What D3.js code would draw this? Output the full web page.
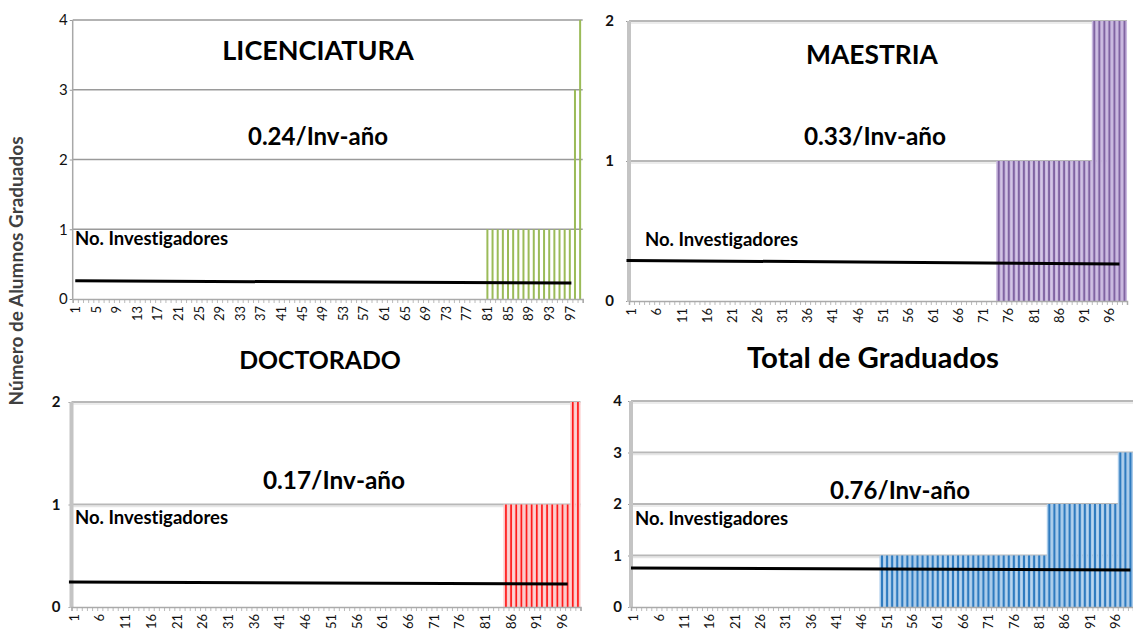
<!DOCTYPE html>
<html>
<head>
<meta charset="utf-8">
<script src="https://cdn.jsdelivr.net/npm/d3@7"></script>
<style>
  html, body { margin: 0; padding: 0; background: #fff; }
  svg { display: block; font-family: Lato, "Open Sans", "DejaVu Sans", sans-serif; }
  svg text { font-variant-ligatures: none; font-feature-settings: "liga" 0, "clig" 0; }
</style>
</head>
<body>
<svg id="chart" width="1133" height="635"></svg>
<script>
// ---------- DATA ----------
const categories = d3.range(1, 100); // 1..99

const licValues = [
  0,0,0,0,0,0,0,0,0,0, 0,0,0,0,0,0,0,0,0,0,
  0,0,0,0,0,0,0,0,0,0, 0,0,0,0,0,0,0,0,0,0,
  0,0,0,0,0,0,0,0,0,0, 0,0,0,0,0,0,0,0,0,0,
  0,0,0,0,0,0,0,0,0,0, 0,0,0,0,0,0,0,0,0,0,
  1,1,1,1,1,1,1,1,1,1, 1,1,1,1,1,1,1,3,4
];
const maeValues = [
  0,0,0,0,0,0,0,0,0,0, 0,0,0,0,0,0,0,0,0,0,
  0,0,0,0,0,0,0,0,0,0, 0,0,0,0,0,0,0,0,0,0,
  0,0,0,0,0,0,0,0,0,0, 0,0,0,0,0,0,0,0,0,0,
  0,0,0,0,0,0,0,0,0,0, 0,0,0,1,1,1,1,1,1,1,
  1,1,1,1,1,1,1,1,1,1, 1,1,2,2,2,2,2,2,2
];
const docValues = [
  0,0,0,0,0,0,0,0,0,0, 0,0,0,0,0,0,0,0,0,0,
  0,0,0,0,0,0,0,0,0,0, 0,0,0,0,0,0,0,0,0,0,
  0,0,0,0,0,0,0,0,0,0, 0,0,0,0,0,0,0,0,0,0,
  0,0,0,0,0,0,0,0,0,0, 0,0,0,0,0,0,0,0,0,0,
  0,0,0,0,1,1,1,1,1,1, 1,1,1,1,1,1,1,2,2
];
const totValues = [
  0,0,0,0,0,0,0,0,0,0, 0,0,0,0,0,0,0,0,0,0,
  0,0,0,0,0,0,0,0,0,0, 0,0,0,0,0,0,0,0,0,0,
  0,0,0,0,0,0,0,0,0,1, 1,1,1,1,1,1,1,1,1,1,
  1,1,1,1,1,1,1,1,1,1, 1,1,1,1,1,1,1,1,1,1,
  1,1,2,2,2,2,2,2,2,2, 2,2,2,2,2,2,3,3,3
];

// "No. Investigadores" reference lines: [category position, value]
const licLine = [[1, 0.26], [97.3, 0.23]];
const maeLine = [[0, 0.29], [98, 0.265]];
const docLine = [[0, 0.245], [97, 0.225]];
const totLine = [[0.5, 0.757], [99, 0.72]];

const licXLabels = [1,5,9,13,17,21,25,29,33,37,41,45,49,53,57,61,65,69,73,77,81,85,89,93,97];
const fiveXLabels = [1,6,11,16,21,26,31,36,41,46,51,56,61,66,71,76,81,86,91,96];

const licYTicks = [0,1,2,3,4];
const maeYTicks = [0,1,2];
const docYTicks = [0,1,2];
const totYTicks = [0,1,2,3,4];

const titles = ["LICENCIATURA", "MAESTRIA", "DOCTORADO", "Total de Graduados"];
const rates = ["0.24/Inv-año", "0.33/Inv-año", "0.17/Inv-año", "0.76/Inv-año"];
const lineLabel = "No. Investigadores";
const yTitle = "Número de Alumnos Graduados";

// ---------- LAYOUT / STYLE ----------
const panels = [
  { values: licValues, line: licLine, yTicks: licYTicks, xLabels: licXLabels,
    left: 72.7, right: 582.7, y0: 299, yTop: 20, boldY: false, thick: false, yPad: 2,
    stripe: "#9bbb59", light: null, stripeW: 2,
    title: [318, 60, 27], rate: [318, 145, 24], lab: [75, 245] },
  { values: maeValues, line: maeLine, yTicks: maeYTicks, xLabels: fiveXLabels,
    left: 629, right: 1127, y0: 301, yTop: 21, boldY: true, thick: true, yPad: 12,
    stripe: "#8064a2", light: "#c9b8df", stripeW: 1.9,
    title: [872, 64, 26.4], rate: [875, 145, 24.4], lab: [645, 246] },
  { values: docValues, line: docLine, yTicks: docYTicks, xLabels: fiveXLabels,
    left: 71.5, right: 580.5, y0: 607, yTop: 402, boldY: true, thick: true, yPad: 8,
    stripe: "#ff1a1a", light: "#fbcaca", stripeW: 1.7,
    title: [320, 369, 24.8], rate: [334, 489, 24.4], lab: [75, 524] },
  { values: totValues, line: totLine, yTicks: totYTicks, xLabels: fiveXLabels,
    left: 631, right: 1133, y0: 607, yTop: 401, boldY: true, thick: true, yPad: 6,
    stripe: "#2f7bbf", light: "#a9cbea", stripeW: 2,
    title: [873, 368, 29.4], rate: [900, 499, 24], lab: [635, 525] }
];

const svg = d3.select("#chart");

panels.forEach((p, i) => {
  const g = svg.append("g");
  const ymax = d3.max(p.yTicks);
  const x = d3.scaleBand().domain(categories).range([p.left, p.right]).padding(0);
  const y = d3.scaleLinear().domain([0, ymax]).range([p.y0, p.yTop]);
  const bw = x.bandwidth();
  const N = categories.length;
  const xl = d3.scaleLinear().domain([1, N]).range([x(1) + bw / 2, x(N) + bw / 2]);
  const xb = d3.scaleLinear().domain([0.5, N + 0.5]).range([p.left, p.right]);

  // gridlines
  g.selectAll("line.grid").data(p.yTicks.filter(t => t > 0)).join("line")
    .attr("x1", p.left).attr("x2", p.right)
    .attr("y1", d => y(d)).attr("y2", d => y(d))
    .attr("stroke", p.thick ? "#b8b8b8" : "#9a9a9a")
    .attr("stroke-width", p.thick ? 2 : 1.4);
  if (p.thick) {
    g.selectAll("line.gridsh").data(p.yTicks.filter(t => t > 0)).join("line")
      .attr("x1", p.left).attr("x2", p.right)
      .attr("y1", d => y(d) + 2).attr("y2", d => y(d) + 2)
      .attr("stroke", "#e6e6e6").attr("stroke-width", 1.5);
  }

  // bars
  const data = categories.map((c, k) => ({ c, v: p.values[k] })).filter(d => d.v > 0);
  if (p.light) {
    g.selectAll("rect.bg").data(data).join("rect")
      .attr("x", d => x(d.c)).attr("width", bw + 0.05)
      .attr("y", d => y(d.v)).attr("height", d => y(0) - y(d.v))
      .attr("fill", p.light);
  }
  g.selectAll("rect.st").data(data).join("rect")
    .attr("x", d => x(d.c) + bw / 2 - p.stripeW / 2).attr("width", p.stripeW)
    .attr("y", d => y(d.v)).attr("height", d => y(0) - y(d.v))
    .attr("fill", p.stripe);

  // y axis
  const ya = d3.axisLeft(y).tickValues(p.yTicks).tickFormat(d3.format("d"))
    .tickSize(3).tickPadding(p.yPad);
  const yg = g.append("g").attr("transform", `translate(${p.left},0)`).call(ya);
  yg.select(".domain").remove();
  yg.selectAll(".tick line").attr("stroke", "#999");
  yg.selectAll(".tick text")
    .attr("font-family", "Lato, 'Open Sans', sans-serif")
    .attr("font-size", 15).attr("font-weight", p.boldY ? "bold" : "normal")
    .attr("fill", "#111");
  g.append("line").attr("x1", p.left).attr("x2", p.left)
    .attr("y1", p.yTop).attr("y2", p.y0 + (p.thick ? 1 : 0))
    .attr("stroke", p.thick ? "#c4c4c4" : "#a8a8a8")
    .attr("stroke-width", p.thick ? 4 : 1.5);

  // x axis: minor ticks at every category boundary
  const xm = d3.axisBottom(xb).tickValues(d3.range(0.5, N + 1, 1)).tickSize(4).tickFormat("");
  const xmg = g.append("g").attr("transform", `translate(0,${p.y0})`).call(xm);
  xmg.select(".domain").attr("stroke", "#aaa").attr("stroke-width", 1.5);
  xmg.selectAll(".tick line").attr("stroke", "#aaa").attr("stroke-width", 0.8);

  // x labels
  const xa = d3.axisBottom(x).tickValues(p.xLabels).tickSize(0).tickPadding(0);
  const xg = g.append("g").attr("transform", `translate(0,${p.y0})`).call(xa);
  xg.select(".domain").remove();
  xg.selectAll(".tick text")
    .attr("font-family", "Lato, 'Open Sans', sans-serif")
    .attr("font-size", 13).attr("fill", "#111")
    .attr("text-anchor", "end")
    .attr("transform", "translate(0,7) rotate(-90)")
    .attr("x", 0).attr("y", 0).attr("dy", "0.36em");

  // reference line
  g.append("path").datum(p.line)
    .attr("d", d3.line().x(d => xl(d[0])).y(d => y(d[1])))
    .attr("stroke", "#000").attr("stroke-width", 3).attr("fill", "none");

  // texts
  g.append("text").attr("x", p.title[0]).attr("y", p.title[1])
    .attr("text-anchor", "middle").attr("font-weight", "bold")
    .attr("font-size", p.title[2]).attr("fill", "#000").text(titles[i]);
  g.append("text").attr("x", p.rate[0]).attr("y", p.rate[1])
    .attr("text-anchor", "middle").attr("font-weight", "bold")
    .attr("font-size", p.rate[2]).attr("fill", "#000").text(rates[i]);
  g.append("text").attr("x", p.lab[0]).attr("y", p.lab[1])
    .attr("font-weight", "bold").attr("font-size", 18.5).attr("fill", "#000").text(lineLabel);
});

// shared y-axis title
svg.append("text")
  .attr("transform", "translate(23,271) rotate(-90)")
  .attr("text-anchor", "middle").attr("font-weight", "bold")
  .attr("font-size", 19).attr("fill", "#404040").text(yTitle);
</script>
</body>
</html>
